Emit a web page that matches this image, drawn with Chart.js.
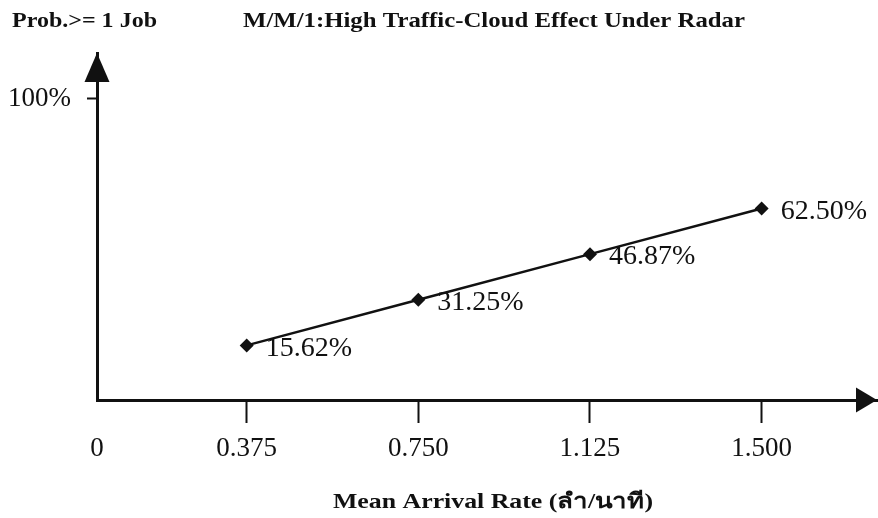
<!DOCTYPE html>
<html>
<head>
<meta charset="utf-8">
<script src="https://cdn.jsdelivr.net/npm/chart.js@4.4.1/dist/chart.umd.min.js"></script>
<style>
  html, body { margin: 0; padding: 0; background: #fff; overflow: hidden; }
  canvas { display: block; }
</style>
</head>
<body>
<canvas id="chartMM1" width="878" height="518"></canvas>
<script>
// ── data ──
const arrivalRates = [0.375, 0.750, 1.125, 1.500];
const probValues   = [15.62, 31.25, 46.87, 62.50];
const xTickValues  = [0, 0.375, 0.750, 1.125, 1.500];
const xTickLabels  = ['0', '0.375', '0.750', '1.125', '1.500'];
const yTickValues  = [100];

const yTitle = 'Prob.>= 1 Job';
const chartTitle = 'M/M/1:High Traffic-Cloud Effect Under Radar';
const xTitle = 'Mean Arrival Rate (ลำ/นาที)';

const INK = '#111';
const SERIF = "'Liberation Serif', 'Times New Roman', serif";

// arrows, titles and point labels
const decorPlugin = {
  id: 'decor',
  afterDatasetsDraw(chart) {
    const ctx = chart.ctx;
    const meta = chart.getDatasetMeta(0);
    ctx.save();
    ctx.fillStyle = INK;
    ctx.font = '28px ' + SERIF;
    ctx.textBaseline = 'middle';
    ctx.textAlign = 'left';
    meta.data.forEach((pt, i) => {
      ctx.fillText(probValues[i].toFixed(2) + '%', pt.x + 19, pt.y + 3);
    });
    ctx.restore();
  },
  afterDraw(chart) {
    const ctx = chart.ctx;
    const a = chart.chartArea;
    ctx.save();
    ctx.fillStyle = INK;
    // y arrow
    ctx.beginPath();
    ctx.moveTo(a.left, a.top);
    ctx.lineTo(a.left - 12.5, a.top + 29);
    ctx.lineTo(a.left + 12.5, a.top + 29);
    ctx.closePath();
    ctx.fill();
    // x arrow
    ctx.beginPath();
    ctx.moveTo(a.right, a.bottom);
    ctx.lineTo(a.right - 21, a.bottom - 12.5);
    ctx.lineTo(a.right - 21, a.bottom + 12.5);
    ctx.closePath();
    ctx.fill();

    // titles, stretched to the widths seen in the scan
    const fitText = (txt, x, y, w, align) => {
      const m = ctx.measureText(txt).width;
      ctx.save();
      ctx.translate(x, y);
      ctx.scale(w / m, 1);
      ctx.textAlign = align;
      ctx.fillText(txt, 0, 0);
      ctx.restore();
    };
    ctx.font = 'bold 22px ' + SERIF;
    ctx.textBaseline = 'alphabetic';
    fitText(yTitle, 12, 27, 145, 'left');
    fitText(chartTitle, 243, 27, 502, 'left');
    ctx.font = 'bold 21px ' + SERIF;
    fitText(xTitle, 493, 508, 320, 'center');
    ctx.restore();
  }
};

new Chart(document.getElementById('chartMM1'), {
  type: 'line',
  data: {
    datasets: [{
      data: arrivalRates.map((x, i) => ({ x, y: probValues[i] })),
      borderColor: INK,
      borderWidth: 2.5,
      pointStyle: 'rectRot',
      pointRadius: 7,
      pointBackgroundColor: INK,
      pointBorderColor: INK,
      pointBorderWidth: 0,
      tension: 0,
    }]
  },
  options: {
    responsive: false,
    animation: false,
    layout: { autoPadding: false, padding: { top: 53, right: 1, bottom: 0, left: 0 } },
    plugins: { legend: { display: false }, tooltip: { enabled: false }, title: { display: false } },
    scales: {
      x: {
        type: 'linear',
        min: 0.048,
        max: 1.752,
        afterBuildTicks: s => { s.ticks = xTickValues.map(v => ({ value: Math.max(v, s.min) })); },
        afterFit: s => { s.height = 118; s.paddingLeft = 0; s.paddingRight = 0; },
        border: { display: true, color: INK, width: 3 },
        grid: {
          drawOnChartArea: false,
          tickLength: 23,
          tickWidth: 2,
          tickColor: c => c.index === 0 ? 'rgba(0,0,0,0)' : INK,
        },
        ticks: {
          color: INK,
          font: { family: SERIF, size: 27 },
          padding: 10,
          maxRotation: 0,
          autoSkip: false,
          callback: (v, i) => xTickLabels[i],
        },
      },
      y: {
        min: -3.08,
        max: 115.75,
        afterBuildTicks: s => { s.ticks = yTickValues.map(v => ({ value: v })); },
        afterFit: s => { s.width = 97; s.paddingTop = 0; s.paddingBottom = 0; },
        border: { display: true, color: INK, width: 3 },
        grid: { drawOnChartArea: false, tickLength: 10, tickWidth: 2, tickColor: INK },
        ticks: {
          color: INK,
          font: { family: SERIF, size: 27 },
          padding: 16,
          callback: v => v + '%',
        },
      },
    },
  },
  plugins: [decorPlugin],
});
</script>
</body>
</html>
